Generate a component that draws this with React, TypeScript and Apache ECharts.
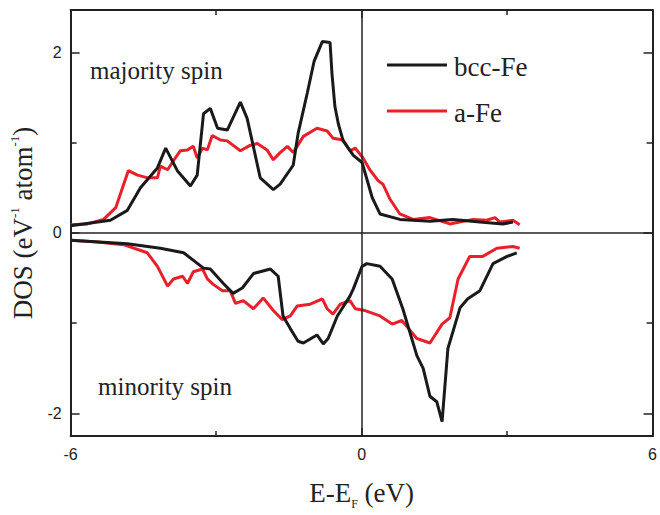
import React, { useEffect, useRef } from "react";
import * as echarts from "echarts";

const xTicks = [-6, 0, 6];
const yTicks = [-2, 0, 2];
const yMinorTicks = [-1, 1];
const seriesNames = ["bcc-Fe", "a-Fe"];

const bccMajE = [-6.0, -5.18, -4.83, -4.56, -4.21, -4.04, -3.8, -3.53, -3.39, -3.26, -3.12, -2.97, -2.77, -2.5, -2.36, -2.09, -1.82, -1.68, -1.41, -1.31, -1.12, -0.98, -0.81, -0.65, -0.61, -0.55, -0.48, -0.38, -0.17, 0.01, 0.22, 0.38, 0.79, 1.41, 1.88, 2.44, 2.91, 3.12];
const bccMajDOS = [0.08, 0.14, 0.25, 0.5, 0.72, 0.94, 0.69, 0.52, 0.64, 1.32, 1.38, 1.16, 1.14, 1.45, 1.27, 0.61, 0.48, 0.54, 0.75, 1.1, 1.55, 1.9, 2.12, 2.11, 1.76, 1.4, 1.21, 1.02, 0.86, 0.78, 0.39, 0.21, 0.15, 0.13, 0.15, 0.12, 0.1, 0.12];

const aMajE = [-6.0, -5.65, -5.32, -5.07, -4.93, -4.81, -4.62, -4.41, -4.21, -4.15, -4.0, -3.88, -3.74, -3.59, -3.47, -3.39, -3.28, -3.18, -3.08, -2.91, -2.77, -2.5, -2.3, -2.15, -1.95, -1.82, -1.68, -1.53, -1.41, -1.2, -0.92, -0.71, -0.59, -0.38, -0.24, -0.13, 0.03, 0.17, 0.34, 0.44, 0.59, 0.79, 1.06, 1.41, 1.82, 2.3, 2.58, 2.75, 2.85, 3.12, 3.26];
const aMajDOS = [0.09, 0.1, 0.15, 0.28, 0.5, 0.69, 0.64, 0.61, 0.61, 0.74, 0.7, 0.8, 0.91, 0.92, 0.96, 0.83, 0.94, 0.92, 1.08, 1.03, 1.02, 0.91, 0.97, 0.99, 0.92, 0.81, 0.89, 0.96, 0.89, 1.07, 1.16, 1.13, 1.05, 1.03, 0.91, 0.94, 0.83, 0.7, 0.58, 0.54, 0.37, 0.21, 0.15, 0.17, 0.1, 0.15, 0.14, 0.17, 0.12, 0.14, 0.09];

const bccMinE = [-6.0, -4.83, -4.15, -3.67, -3.26, -3.12, -2.85, -2.65, -2.46, -2.23, -1.88, -1.72, -1.62, -1.47, -1.31, -1.2, -0.92, -0.79, -0.69, -0.5, -0.24, -0.17, 0.01, 0.11, 0.38, 0.63, 0.85, 1.14, 1.27, 1.41, 1.55, 1.66, 1.78, 2.03, 2.19, 2.44, 2.71, 3.0, 3.2];
const bccMinDOS = [-0.08, -0.12, -0.17, -0.22, -0.39, -0.4, -0.56, -0.67, -0.61, -0.45, -0.4, -0.48, -0.92, -1.06, -1.2, -1.22, -1.13, -1.23, -1.17, -0.92, -0.7, -0.62, -0.37, -0.34, -0.37, -0.51, -0.84, -1.36, -1.5, -1.81, -1.87, -2.09, -1.28, -0.83, -0.73, -0.64, -0.34, -0.26, -0.22];

const aMinE = [-6.0, -5.44, -4.91, -4.42, -4.21, -4.0, -3.88, -3.69, -3.59, -3.47, -3.28, -3.18, -3.06, -2.87, -2.71, -2.6, -2.44, -2.23, -2.03, -1.82, -1.64, -1.47, -1.33, -1.06, -0.81, -0.71, -0.59, -0.44, -0.24, -0.13, 0.07, 0.38, 0.63, 0.83, 1.0, 1.14, 1.41, 1.66, 1.82, 1.99, 2.23, 2.5, 2.79, 3.12, 3.26];
const aMinDOS = [-0.08, -0.1, -0.13, -0.22, -0.37, -0.59, -0.51, -0.48, -0.56, -0.43, -0.4, -0.51, -0.57, -0.64, -0.64, -0.78, -0.75, -0.84, -0.72, -0.86, -0.96, -0.92, -0.81, -0.79, -0.73, -0.84, -0.9, -0.79, -0.75, -0.84, -0.86, -0.92, -1.01, -0.97, -1.08, -1.17, -1.22, -1.01, -0.94, -0.51, -0.26, -0.26, -0.17, -0.15, -0.17];

const zip = (xs: number[], ys: number[]) => xs.map((x, i) => [x, ys[i]]);

const SERIF = "Liberation Serif";
const SANS = "Liberation Sans";
const BLACK = "#1a1a1a";
const RED = "#e8202a";
const AX = "#222";

export default function App() {
  const ref = useRef<HTMLDivElement>(null);
  useEffect(() => {
    if (!ref.current) return;
    const chart = echarts.init(ref.current, undefined, { renderer: "svg" });
    const axisLine = { show: true, onZero: false, lineStyle: { color: AX, width: 2 } };
    const common = { min: -6, max: 6 };
    const yCommon = { min: -2.25, max: 2.47 };
    const legendColors = [BLACK, RED];
    const legendY = [65, 111];
    const legendGraphic = seriesNames.flatMap((name, i) => [
      { type: "line", shape: { x1: 387, y1: legendY[i], x2: 447, y2: legendY[i] }, style: { stroke: legendColors[i], lineWidth: 3 } },
      {
        type: "text", x: 454, y: legendY[i] + 2,
        style: {
          text: `{t|${name}}`, fontFamily: SERIF, fontSize: 27, fill: AX, verticalAlign: "middle",
          rich: { t: { fontFamily: SERIF, fontSize: 27, fill: AX, lineHeight: 30 } },
        },
      },
    ]);
    chart.setOption({
      animation: false,
      backgroundColor: "#fff",
      textStyle: { fontFamily: SERIF, color: AX },
      grid: { left: 70, right: 7, top: 10, bottom: 73, containLabel: false },
      xAxis: [
        {
          type: "value", position: "bottom", ...common, interval: 6,
          axisLine,
          axisTick: { show: true, inside: true, length: 8, lineStyle: { color: AX, width: 1.5 } },
          minorTick: { show: true, splitNumber: 2, length: 5, lineStyle: { color: AX, width: 1.5 } },
          splitLine: { show: false }, minorSplitLine: { show: false },
          axisLabel: { customValues: xTicks, fontFamily: SANS, fontSize: 16, color: AX, margin: 10 },
          name: "E-E{sub|F} (eV)",
          nameLocation: "middle",
          nameGap: 40,
          nameTextStyle: {
            fontFamily: SERIF, fontSize: 27, color: AX,
            rich: { sub: { fontFamily: SERIF, fontSize: 12, color: AX, verticalAlign: "bottom", lineHeight: 34 } },
          },
        },
        {
          type: "value", position: "top", ...common, interval: 6,
          axisLine,
          axisTick: { show: true, inside: true, length: 8, lineStyle: { color: AX, width: 1.5 } },
          minorTick: { show: true, splitNumber: 2, length: 5, lineStyle: { color: AX, width: 1.5 } },
          splitLine: { show: false }, minorSplitLine: { show: false },
          axisLabel: { show: false },
        },
      ],
      yAxis: [
        {
          type: "value", position: "left", ...yCommon,
          axisLine,
          axisTick: { show: true, inside: true, length: 9, customValues: yTicks, lineStyle: { color: AX, width: 1.5 } },
          splitLine: { show: false },
          axisLabel: { customValues: yTicks, fontFamily: SANS, fontSize: 16, color: AX, margin: 9 },
          name: "DOS (eV{sup|-1} atom{sup|-1})",
          nameLocation: "middle",
          nameGap: 31,
          nameTextStyle: {
            fontFamily: SERIF, fontSize: 27, color: AX,
            rich: { sup: { fontFamily: SERIF, fontSize: 13, color: AX, verticalAlign: "top", lineHeight: 30 } },
          },
        },
        {
          type: "value", position: "right", ...yCommon,
          axisLine,
          axisTick: { show: true, inside: true, length: 9, customValues: yTicks, lineStyle: { color: AX, width: 1.5 } },
          splitLine: { show: false },
          axisLabel: { show: false },
        },
        {
          type: "value", position: "left", ...yCommon,
          axisLine: { show: false, onZero: false },
          axisTick: { show: true, inside: true, length: 6, customValues: yMinorTicks, lineStyle: { color: AX, width: 1.5 } },
          splitLine: { show: false },
          axisLabel: { show: false },
        },
        {
          type: "value", position: "right", ...yCommon,
          axisLine: { show: false, onZero: false },
          axisTick: { show: true, inside: true, length: 6, customValues: yMinorTicks, lineStyle: { color: AX, width: 1.5 } },
          splitLine: { show: false },
          axisLabel: { show: false },
        },
      ],
      graphic: [
        { type: "text", x: 90, y: 70, style: { text: "majority spin", fontFamily: SERIF, fontSize: 25, fill: AX, verticalAlign: "middle" } },
        { type: "text", x: 98, y: 386, style: { text: "minority spin", fontFamily: SERIF, fontSize: 25, fill: AX, verticalAlign: "middle" } },
        ...legendGraphic,
      ],
      series: [
        {
          name: seriesNames[0], type: "line", data: zip(bccMajE, bccMajDOS), symbol: "none",
          lineStyle: { color: BLACK, width: 3 }, itemStyle: { color: BLACK }, z: 3,
          markLine: {
            silent: true, symbol: "none", label: { show: false },
            lineStyle: { color: AX, width: 1.5, type: "solid" },
            data: [{ xAxis: 0 }, { yAxis: 0 }],
          },
        },
        {
          name: seriesNames[0], type: "line", data: zip(bccMinE, bccMinDOS), symbol: "none",
          lineStyle: { color: BLACK, width: 3 }, itemStyle: { color: BLACK }, z: 3,
        },
        {
          name: seriesNames[1], type: "line", data: zip(aMajE, aMajDOS), symbol: "none",
          lineStyle: { color: RED, width: 3 }, itemStyle: { color: RED }, z: 2,
        },
        {
          name: seriesNames[1], type: "line", data: zip(aMinE, aMinDOS), symbol: "none",
          lineStyle: { color: RED, width: 3 }, itemStyle: { color: RED }, z: 2,
        },
      ],
    });
    return () => chart.dispose();
  }, []);
  return <div ref={ref} style={{ position: "fixed", left: 0, top: 0, width: 660, height: 515 }} />;
}
